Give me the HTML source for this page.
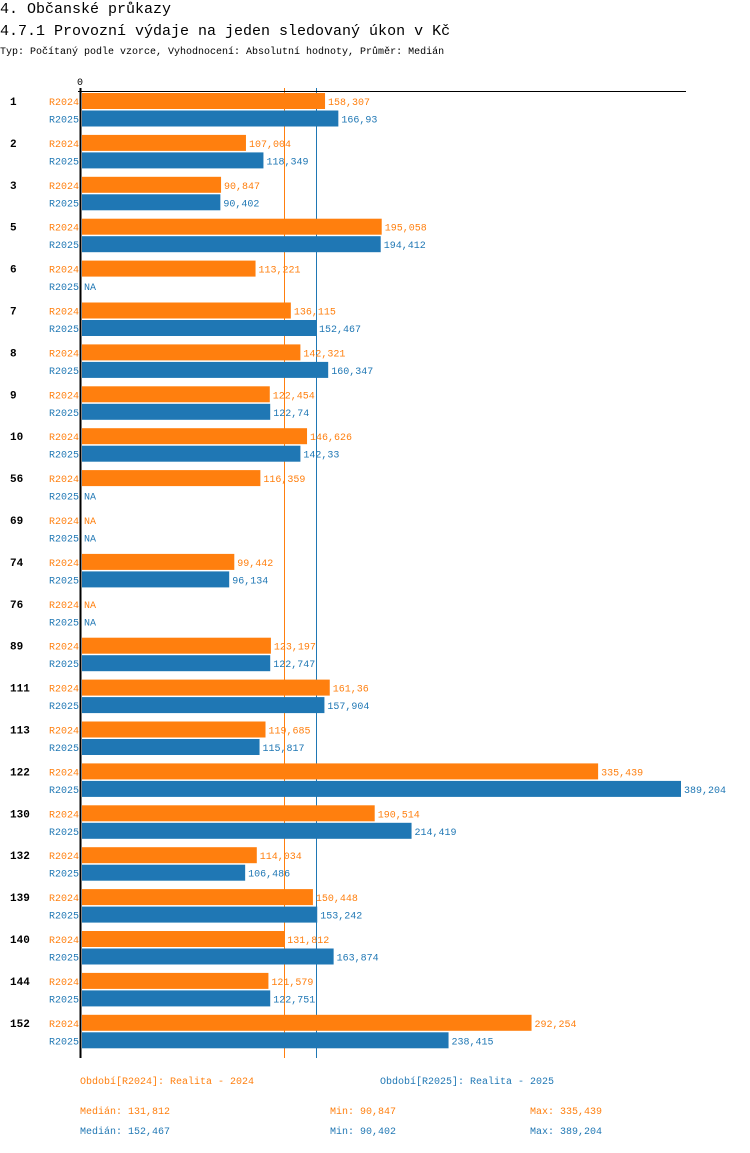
<!DOCTYPE html>
<html><head><meta charset="utf-8">
<style>
body{margin:0;background:#fff;width:750px;height:1148px;overflow:hidden;font-family:"Liberation Mono",monospace;}
svg text{font-family:"Liberation Mono",monospace;}
</style></head>
<body>
<svg id="chart" width="750" height="1148" xmlns="http://www.w3.org/2000/svg">
<text x="0" y="13" font-size="15" fill="#000">4. Občanské průkazy</text>
<text x="0" y="35" font-size="15" fill="#000">4.7.1 Provozní výdaje na jeden sledovaný úkon v Kč</text>
<text x="0" y="54" font-size="10" fill="#000">Typ: Počítaný podle vzorce, Vyhodnocení: Absolutní hodnoty, Průměr: Medián</text>
<text x="77" y="85" font-size="10" fill="#000">0</text>
<g id="medians"></g>
<g id="marks"></g>
<line x1="78" y1="91.5" x2="686" y2="91.5" stroke="#000" stroke-width="1"/>
<line x1="80.5" y1="88" x2="80.5" y2="1058" stroke="#000" stroke-width="2"/>
<text x="80" y="1084" font-size="10" fill="#ff7f0e">Období[R2024]: Realita - 2024</text>
<text x="380" y="1084" font-size="10" fill="#1f77b4">Období[R2025]: Realita - 2025</text>
<text x="80" y="1114" font-size="10" fill="#ff7f0e">Medián: 131,812</text>
<text x="330" y="1114" font-size="10" fill="#ff7f0e">Min: 90,847</text>
<text x="530" y="1114" font-size="10" fill="#ff7f0e">Max: 335,439</text>
<text x="80" y="1134" font-size="10" fill="#1f77b4">Medián: 152,467</text>
<text x="330" y="1134" font-size="10" fill="#1f77b4">Min: 90,402</text>
<text x="530" y="1134" font-size="10" fill="#1f77b4">Max: 389,204</text>
</svg>
<script>
const categories=["1","2","3","5","6","7","8","9","10","56","69","74","76","89","111","113","122","130","132","139","140","144","152"];
const r2024=[158.307,107.004,90.847,195.058,113.221,136.115,142.321,122.454,146.626,116.359,null,99.442,null,123.197,161.36,119.685,335.439,190.514,114.034,150.448,131.812,121.579,292.254];
const r2025=[166.93,118.349,90.402,194.412,null,152.467,160.347,122.74,142.33,null,null,96.134,null,122.747,157.904,115.817,389.204,214.419,106.486,153.242,163.874,122.751,238.415];
const medians=[131.812,152.467];
const seriesNames=["R2024","R2025"];
const colors=["#ff7f0e","#1f77b4"];
const X0=81, SCALE=(681-81)/389.204;
function xs(v){return X0+v*SCALE;}
function yg(i){return 93+i*41.9;}
function fmt(v){return String(v).replace('.',',');}
const NS="http://www.w3.org/2000/svg";
const g=document.getElementById('marks');
const gm=document.getElementById('medians');
function mk(tag,attrs){const e=document.createElementNS(NS,tag);for(const k in attrs)e.setAttribute(k,attrs[k]);return e;}
const series=[r2024,r2025];
medians.forEach((m,k)=>{
  const ln=mk('line',{x1:Math.round(xs(m))+0.5,y1:88,x2:Math.round(xs(m))+0.5,y2:1058,stroke:colors[k],'stroke-width':1});
  
  
  gm.appendChild(ln);
});
categories.forEach((c,i)=>{
  const y=yg(i);
  const t=mk('text',{x:10,y:y+12,'font-size':11,'font-weight':'bold',fill:'#000'});
  
  
  t.textContent=c;g.appendChild(t);
  series.forEach((s,k)=>{
    const by=y+k*17.5;
    const l=mk('text',{x:79,y:by+12,'font-size':10,fill:colors[k],'text-anchor':'end'});
    
    
    l.textContent=seriesNames[k];g.appendChild(l);
    const v=s[i];
    if(v!==null){
      const r=mk('rect',{x:X0+1,y:by,width:xs(v)-X0-1,height:16,fill:colors[k]});
      
      
      g.appendChild(r);
    }
    const vl=mk('text',{x:(v!==null?xs(v):X0)+3,y:by+12,'font-size':10,fill:colors[k]});
    
    
    vl.textContent=v!==null?fmt(v):'NA';g.appendChild(vl);
  });
});
</script>
</body></html>
